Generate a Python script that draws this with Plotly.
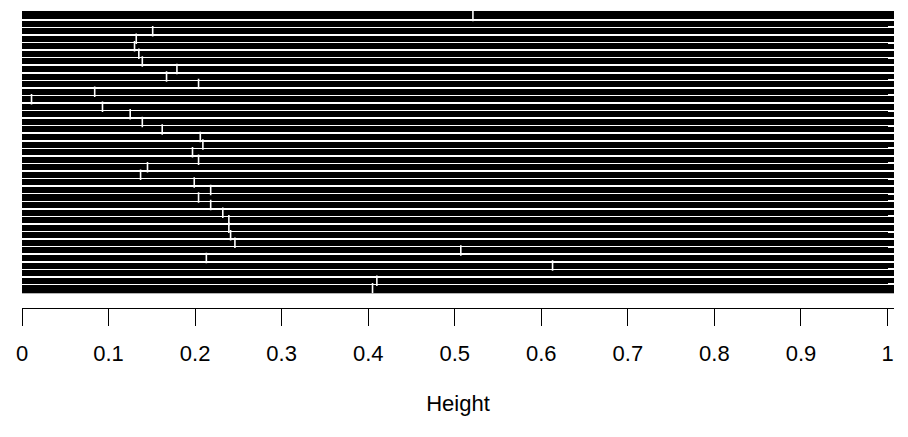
import plotly.graph_objects as go

# split position of each row, top to bottom (None = no visible split)
splits = [0.521, None, 0.151, 0.132, 0.130, 0.135, 0.139, 0.179, 0.167, 0.204,
          0.084, 0.011, 0.093, 0.125, 0.139, 0.162, 0.206, 0.209, 0.197, 0.204,
          0.145, 0.137, 0.199, 0.218, 0.204, 0.218, 0.232, 0.239, 0.239, 0.241,
          0.246, 0.507, 0.213, 0.613, None, 0.410, 0.405]
row_total = 1.0
tick_vals = [0, 0.1, 0.2, 0.3, 0.4, 0.5, 0.6, 0.7, 0.8, 0.9, 1]
tick_text = ["0", "0.1", "0.2", "0.3", "0.4", "0.5", "0.6", "0.7", "0.8", "0.9", "1"]

n = len(splits)
rows = list(range(n))
left = [s if s is not None else 0 for s in splits]
right = [row_total - l for l in left]

fig = go.Figure()
fig.add_trace(go.Bar(y=rows, x=left, orientation="h", marker=dict(color="black", line=dict(width=0)),
                     showlegend=False, hoverinfo="skip"))
fig.add_trace(go.Bar(y=rows, x=right, orientation="h", marker=dict(color="black", line=dict(width=0)),
                     showlegend=False, hoverinfo="skip"))
sx = [s for s in splits if s is not None]
sy = [r for r, s in zip(rows, splits) if s is not None]
fig.add_trace(go.Scatter(x=sx, y=sy, mode="markers",
                         marker=dict(symbol="line-ns", size=7.5, line=dict(color="white", width=1.6)),
                         showlegend=False, hoverinfo="skip"))

fig.update_layout(
    width=908, height=437,
    margin=dict(l=22, r=14, t=11, b=129),
    paper_bgcolor="white", plot_bgcolor="black",
    barmode="stack", bargap=0.2,
    font=dict(family="Liberation Sans, Arial, sans-serif", color="black"),
    xaxis=dict(range=[0, 1.0075], tickvals=tick_vals, ticktext=tick_text,
               showgrid=False, zeroline=False, anchor="free", position=0,
               showline=True, linecolor="black", linewidth=1,
               ticks="outside", ticklen=17, tickwidth=1, tickcolor="black",
               tickfont=dict(size=22), ticklabelstandoff=9,
               title=dict(text="Height", font=dict(size=22), standoff=30)),
    yaxis=dict(domain=[0.0495, 1], range=[n - 0.5 + 0.17, -0.5 - 0.17],
               tickvals=[k + 0.5 for k in range(n - 1)], showticklabels=False,
               showgrid=True, gridcolor="white", gridwidth=1.5,
               zeroline=False, showline=False, ticks=""),
)
fig.write_html("out.html")
